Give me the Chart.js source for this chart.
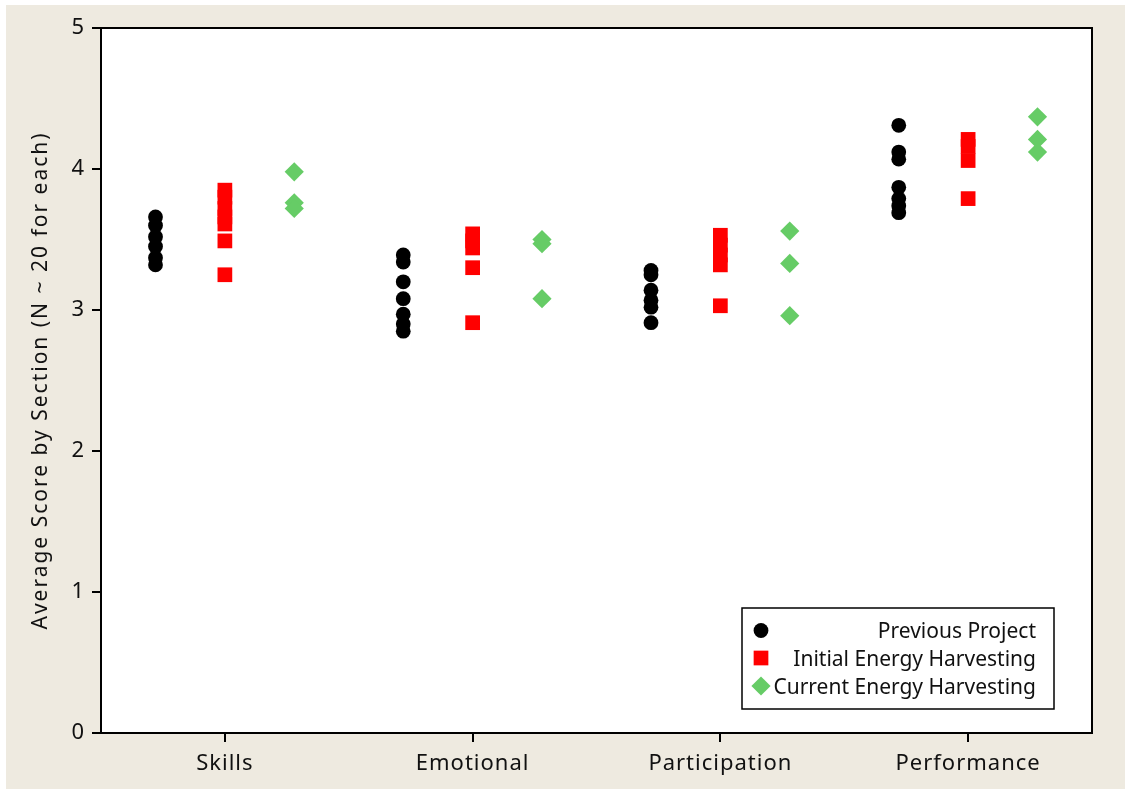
<!DOCTYPE html>
<html>
<head>
<meta charset="utf-8">
<script src="https://cdn.jsdelivr.net/npm/chart.js@4/dist/chart.umd.min.js"></script>
<style>
  html, body { margin: 0; padding: 0; background: #ffffff; }
  #wrap { width: 1125px; height: 789px; position: relative; }
  canvas { display: block; }
</style>
</head>
<body>
<div id="wrap"><canvas id="chart" width="1125" height="789"></canvas></div>
<script>
// Sections on the horizontal axis
const categories = ['Skills', 'Emotional', 'Participation', 'Performance'];

// Average score per course section, grouped by survey section
const previousProject = [
  [3.66, 3.60, 3.52, 3.45, 3.37, 3.32],
  [3.39, 3.34, 3.20, 3.08, 2.97, 2.90, 2.85],
  [3.28, 3.25, 3.14, 3.07, 3.02, 2.91],
  [4.31, 4.12, 4.07, 3.87, 3.79, 3.74, 3.69]
];
const initialHarvesting = [
  [3.85, 3.80, 3.72, 3.66, 3.61, 3.49, 3.25],
  [3.54, 3.49, 3.44, 3.30, 2.91],
  [3.53, 3.46, 3.39, 3.32, 3.03],
  [4.21, 4.16, 4.06, 3.79]
];
const currentHarvesting = [
  [3.98, 3.76, 3.72],
  [3.50, 3.47, 3.08],
  [3.56, 3.33, 2.96],
  [4.37, 4.21, 4.12]
];

const seriesLabels = ['Previous Project', 'Initial Energy Harvesting', 'Current Energy Harvesting'];
const yTicks = [0, 1, 2, 3, 4, 5];
const yTitle = 'Average Score by Section (N ~ 20 for each)';

// Horizontal shift of each group within a section
const groupShift = [-0.28, 0, 0.28];

function toPoints(groups, shift) {
  const pts = [];
  groups.forEach((vals, i) => {
    vals.forEach(v => pts.push({ x: i + 1 + shift, y: v }));
  });
  return pts;
}

const FONT = '"Noto Sans", "Open Sans", sans-serif';

const datasets = [
  {
    label: seriesLabels[0],
    data: toPoints(previousProject, groupShift[0]),
    pointStyle: 'circle',
    pointRadius: 7.4,
    pointBorderWidth: 0,
    backgroundColor: '#000000',
    borderColor: '#000000'
  },
  {
    label: seriesLabels[1],
    data: toPoints(initialHarvesting, groupShift[1]),
    pointStyle: 'rect',
    pointRadius: 10.4,
    pointBorderWidth: 0,
    backgroundColor: '#ff0000',
    borderColor: '#ff0000'
  },
  {
    label: seriesLabels[2],
    data: toPoints(currentHarvesting, groupShift[2]),
    pointStyle: 'rectRot',
    pointRadius: 9.6,
    pointBorderWidth: 0,
    backgroundColor: '#66cc66',
    borderColor: '#66cc66'
  }
];

// Beige page, white plot panel, frame, y title and boxed legend
const framePlugin = {
  id: 'frame',
  beforeDraw(chart) {
    const { ctx, chartArea: a } = chart;
    ctx.save();
    ctx.fillStyle = '#eeeae0';
    ctx.fillRect(6, 5, chart.width - 6, chart.height - 5);
    ctx.fillStyle = '#ffffff';
    ctx.fillRect(a.left, a.top, a.right - a.left, a.bottom - a.top);
    ctx.restore();
    ctx.letterSpacing = '1px';
  },
  beforeDatasetsDraw(chart) {
    const { ctx, chartArea: a } = chart;
    ctx.save();
    ctx.strokeStyle = '#000000';
    ctx.lineWidth = 2;
    ctx.beginPath();
    ctx.moveTo(a.left, a.top);
    ctx.lineTo(a.right, a.top);
    ctx.lineTo(a.right, a.bottom);
    ctx.stroke();
    ctx.restore();
  },
  afterDraw(chart) {
    const { ctx, chartArea: a } = chart;
    // rotated axis title
    ctx.save();
    ctx.translate(41, (a.top + a.bottom) / 2);
    ctx.rotate(-Math.PI / 2);
    ctx.font = '21px ' + FONT;
    ctx.letterSpacing = '2px';
    ctx.fillStyle = '#111111';
    ctx.textAlign = 'center';
    ctx.textBaseline = 'middle';
    ctx.fillText(yTitle, 0, 0);
    ctx.restore();

    // legend box in the lower right of the plot
    const box = { left: 742, top: 608, right: 1054, bottom: 709 };
    ctx.save();
    ctx.fillStyle = '#ffffff';
    ctx.fillRect(box.left, box.top, box.right - box.left, box.bottom - box.top);
    ctx.strokeStyle = '#000000';
    ctx.lineWidth = 1.5;
    ctx.strokeRect(box.left, box.top, box.right - box.left, box.bottom - box.top);
    const rows = [630.5, 658, 686];
    ctx.font = '21px ' + FONT;
    ctx.letterSpacing = '0px';
    ctx.textAlign = 'right';
    ctx.textBaseline = 'alphabetic';
    chart.data.datasets.forEach((ds, i) => {
      ctx.fillStyle = ds.backgroundColor;
      ctx.strokeStyle = ds.borderColor;
      Chart.helpers.drawPoint(ctx, {
        pointStyle: ds.pointStyle,
        radius: ds.pointRadius,
        borderWidth: 0,
        rotation: 0
      }, 761, rows[i]);
      ctx.fillStyle = '#111111';
      ctx.fillText(ds.label, 1036, rows[i] + 7.5);
    });
    ctx.restore();
  }
};

new Chart(document.getElementById('chart'), {
  type: 'scatter',
  data: { datasets },
  plugins: [framePlugin],
  options: {
    responsive: false,
    animation: false,
    events: [],
    layout: { padding: { top: 28, right: 33, left: 0, bottom: 0 } },
    plugins: {
      legend: { display: false },
      tooltip: { enabled: false }
    },
    scales: {
      x: {
        type: 'linear',
        min: 0.5,
        max: 4.5,
        afterBuildTicks(scale) {
          scale.ticks = categories.map((_, i) => ({ value: i + 1 }));
        },
        afterFit(scale) { scale.height = 56; },
        grid: {
          drawOnChartArea: false,
          drawTicks: true,
          tickLength: 9,
          color: '#000000',
          lineWidth: 2
        },
        border: { display: true, color: '#000000', width: 2 },
        ticks: {
          padding: 9,
          color: '#111111',
          font: { family: FONT, size: 22 },
          maxRotation: 0,
          callback: (v) => categories[Math.round(v) - 1] || ''
        }
      },
      y: {
        type: 'linear',
        min: yTicks[0],
        max: yTicks[yTicks.length - 1],
        afterBuildTicks(scale) {
          scale.ticks = yTicks.map(v => ({ value: v }));
        },
        afterFit(scale) { scale.width = 101; },
        grid: {
          drawOnChartArea: false,
          drawTicks: true,
          tickLength: 9,
          color: '#000000',
          lineWidth: 2
        },
        border: { display: true, color: '#000000', width: 2 },
        ticks: {
          padding: 7,
          color: '#111111',
          font: { family: FONT, size: 22 }
        }
      }
    }
  }
});
</script>
</body>
</html>
